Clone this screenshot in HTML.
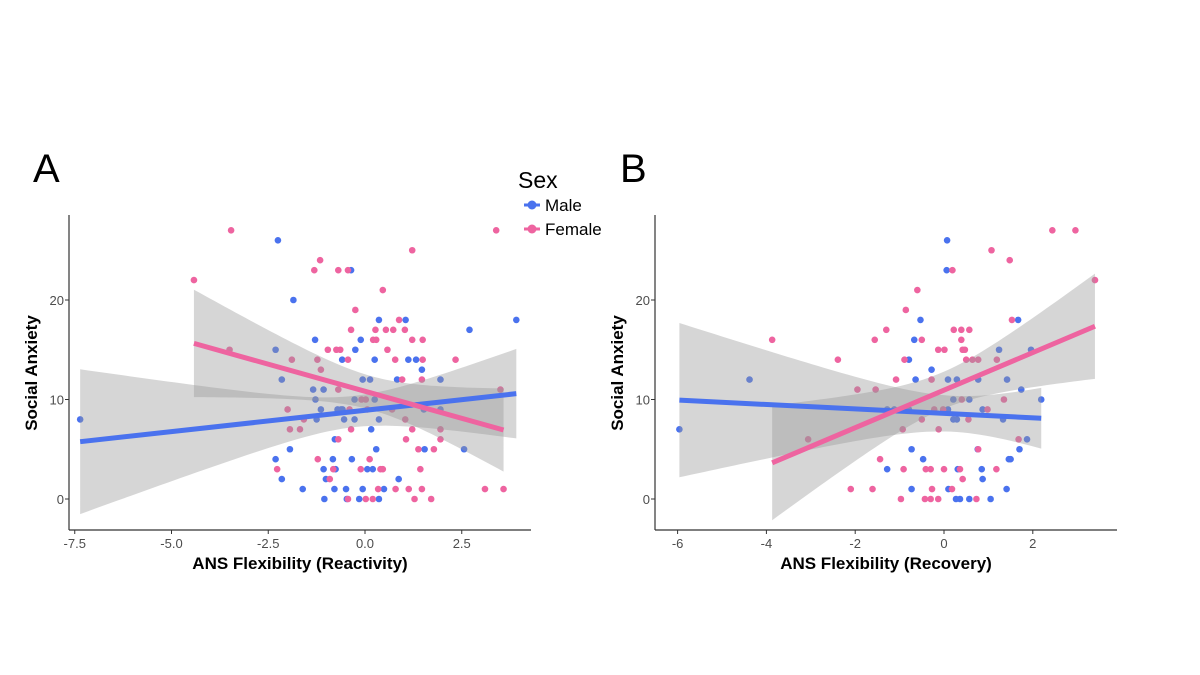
<!DOCTYPE html>
<html><head><meta charset="utf-8"><style>
body{margin:0;background:#fff;}
svg{display:block;font-family:"Liberation Sans",Arial,sans-serif;}
</style></head><body>
<svg id="chart" width="1200" height="675" viewBox="0 0 1200 675">
<text x="33" y="182" font-size="40" fill="#000">A</text>
<text x="620" y="182" font-size="40" fill="#000">B</text>
<g>
<text x="518" y="188" font-size="23" fill="#000">Sex</text>
<g>
<line x1="524" y1="205" x2="540" y2="205" stroke="#4a72ee" stroke-width="3"/><circle cx="532" cy="205" r="4.5" fill="#4a72ee"/>
<text x="545" y="211" font-size="17" fill="#000">Male</text></g>
<g>
<line x1="524" y1="229" x2="540" y2="229" stroke="#ee64a0" stroke-width="3"/><circle cx="532" cy="229" r="4.5" fill="#ee64a0"/>
<text x="545" y="235" font-size="17" fill="#000">Female</text></g>
</g>
<g id="pA"></g>
<g id="pB"></g>
</svg>
<script>
// Panel A data (ANS Flexibility Reactivity vs Social Anxiety)
const aMaleX=[-7.36,-2.25,-1.85,-0.36,0.36,1.05,3.91,2.7,-1.29,-0.11,-2.31,-0.25,-0.59,0.25,1.12,1.32,1.47,-2.15,-0.06,0.13,0.83,1.95,-1.34,-1.07,-1.28,-0.27,0.25,-1.14,-0.71,-0.62,-0.58,1.52,1.95,-1.25,-0.54,-0.27,0.36,0.16,-0.78,-1.94,0.29,1.54,2.56,-2.31,-0.83,-0.34,-1.07,-0.76,0.06,0.2,-2.15,-1.01,0.87,-1.61,-0.79,-0.49,-0.06,0.49,-1.05,-0.47,-0.15,0.36];
const aMaleY=[8,26,20,23,18,18,18,17,16,16,15,15,14,14,14,14,13,12,12,12,12,12,11,11,10,10,10,9,9,9,9,9,9,8,8,8,8,7,6,5,5,5,5,4,4,4,3,3,3,3,2,2,2,1,1,1,1,1,0,0,0,0];
const aFemX=[-3.46,3.39,-4.42,1.22,-1.16,-1.31,-0.69,-0.44,0.46,-0.25,0.88,-0.36,0.27,0.54,0.73,1.03,0.21,0.29,1.22,1.49,-3.5,-0.96,-0.74,-0.64,0.58,-1.89,-1.23,-0.44,0.78,1.49,2.34,-1.14,0.96,1.47,-0.69,3.5,-0.09,0.02,-2.0,-0.4,0.06,0.7,-1.58,1.04,-1.94,-1.68,-0.36,1.22,1.95,-0.69,1.06,1.95,1.38,1.78,-1.22,0.12,-2.27,-0.82,-0.11,0.4,0.46,1.43,-0.91,0.34,0.79,1.13,1.47,3.1,3.58,-0.44,0.02,0.2,1.28,1.71];
const aFemY=[27,27,22,25,24,23,23,23,21,19,18,17,17,17,17,17,16,16,16,16,15,15,15,15,15,14,14,14,14,14,14,13,12,12,11,11,10,10,9,9,9,9,8,8,7,7,7,7,7,6,6,6,5,5,4,4,3,3,3,3,3,3,2,1,1,1,1,1,1,0,0,0,0,0];
// Panel B data (ANS Flexibility Recovery vs Social Anxiety)
const bMaleX=[-5.96,-4.38,0.07,0.06,-0.53,1.67,-0.67,-0.79,1.24,1.96,-0.28,-0.64,0.09,0.29,0.77,1.42,1.74,0.21,0.57,2.19,-1.28,-1.12,-0.79,0.09,0.87,0.21,0.29,1.33,1.87,-0.73,0.76,1.7,-0.47,1.46,1.5,-1.28,0.31,0.85,0.87,-0.73,0.1,1.41,0.27,0.36,0.57,1.05];
const bMaleY=[7,12,26,23,18,18,16,14,15,15,13,12,12,12,12,12,11,10,10,10,9,9,9,9,9,8,8,8,6,5,5,5,4,4,4,3,3,3,2,1,1,1,0,0,0,0];
const bFemX=[2.96,2.44,1.07,1.48,0.19,3.4,-0.6,-0.86,1.53,-1.3,0.22,0.39,0.57,-3.87,-1.56,-0.5,0.39,-0.13,0.01,0.42,0.47,-2.39,-0.89,0.5,0.64,0.77,1.19,-1.08,-0.28,-1.95,-1.54,0.4,1.35,-0.22,-0.02,0.98,-0.5,0.55,-0.93,-0.12,-3.06,1.68,0.77,-1.44,-0.91,-0.41,-0.3,0,0.36,1.18,0.42,-2.1,-1.61,-0.27,0.18,-0.97,-0.43,-0.3,-0.13,0.73];
const bFemY=[27,27,25,24,23,22,21,19,18,17,17,17,17,16,16,16,16,15,15,15,15,14,14,14,14,14,14,12,12,11,11,10,10,9,9,9,8,8,7,7,6,6,5,4,3,3,3,3,3,3,2,1,1,1,1,0,0,0,0,0];
const aTicksX=[-7.5,-5.0,-2.5,0.0,2.5], aTickLabels=["-7.5","-5.0","-2.5","0.0","2.5"];
const bTicksX=[-6,-4,-2,0,2], bTickLabels=["-6","-4","-2","0","2"];
const yTicks=[0,10,20], yTickLabels=["0","10","20"];

const NS="http://www.w3.org/2000/svg";
const BLUE="#4a72ee", PINK="#ee64a0";
function mk(parent,tag,attrs){const e=document.createElementNS(NS,tag);for(const k in attrs)e.setAttribute(k,attrs[k]);parent.appendChild(e);return e;}

function fit(xs,ys){
  const n=xs.length;let mx=0,my=0;for(let i=0;i<n;i++){mx+=xs[i];my+=ys[i];}mx/=n;my/=n;
  let sxx=0,sxy=0;for(let i=0;i<n;i++){sxx+=(xs[i]-mx)**2;sxy+=(xs[i]-mx)*(ys[i]-my);}
  const b=sxy/sxx,a=my-b*mx;let sse=0;for(let i=0;i<n;i++)sse+=(ys[i]-a-b*xs[i])**2;
  const s=Math.sqrt(sse/(n-2));return {a,b,s,n,mx,sxx,t:1.99};
}

function panel(g,cfg){
  const X=v=>cfg.x0+v*cfg.kx, Y=v=>499-v*9.95;
  // axes
  mk(g,'line',{x1:cfg.left,y1:215,x2:cfg.left,y2:530,stroke:'#333','stroke-width':1.2});
  mk(g,'line',{x1:cfg.left,y1:530,x2:cfg.right,y2:530,stroke:'#333','stroke-width':1.2});
  cfg.ticks.forEach((t,i)=>{
    mk(g,'line',{x1:X(t),y1:530,x2:X(t),y2:534,stroke:'#333','stroke-width':1});
    const tx=mk(g,'text',{x:X(t),y:548,'font-size':13,'text-anchor':'middle',fill:'#4d4d4d'});tx.textContent=cfg.labels[i];
    
    
  });
  yTicks.forEach((t,i)=>{
    mk(g,'line',{x1:cfg.left-4,y1:Y(t),x2:cfg.left,y2:Y(t),stroke:'#333','stroke-width':1});
    const tx=mk(g,'text',{x:cfg.left-5,y:Y(t)+5,'font-size':13,'text-anchor':'end',fill:'#4d4d4d'});tx.textContent=yTickLabels[i];
    
    
  });
  const yt=mk(g,'text',{x:0,y:0,'font-size':17,'font-weight':'bold','text-anchor':'middle',fill:'#000',transform:`translate(${cfg.left-32},373) rotate(-90)`});
  yt.textContent='Social Anxiety';
  
  
  const xt=mk(g,'text',{x:(cfg.left+cfg.right)/2,y:569,'font-size':17,'font-weight':'bold','text-anchor':'middle',fill:'#000'});
  xt.textContent=cfg.title;
  
  
  // points
  cfg.series.forEach(s=>{
    s.xs.forEach((x,i)=>{
      const c=mk(g,'circle',{cx:X(x),cy:Y(s.ys[i]),r:3.3,fill:s.color});
      
      
    });
  });
  // fits
  cfg.series.forEach(s=>{
    const f=fit(s.xs,s.ys);const lo=Math.min(...s.xs),hi=Math.max(...s.xs);
    const up=[],dn=[];const N=60;
    for(let k=0;k<=N;k++){const x=lo+(hi-lo)*k/N;const yh=f.a+f.b*x;
      const h=f.t*f.s*Math.sqrt(1/f.n+(x-f.mx)**2/f.sxx);
      up.push(X(x)+','+Y(yh+h));dn.unshift(X(x)+','+Y(yh-h));}
    const band=mk(g,'polygon',{points:up.concat(dn).join(' '),fill:'#999','fill-opacity':0.4});
    
    
  });
  cfg.series.forEach(s=>{
    const f=fit(s.xs,s.ys);const lo=Math.min(...s.xs),hi=Math.max(...s.xs);
    const l=mk(g,'line',{x1:X(lo),y1:Y(f.a+f.b*lo),x2:X(hi),y2:Y(f.a+f.b*hi),stroke:s.color,'stroke-width':5});
    
    
  });
}
panel(document.getElementById('pA'),{x0:365,kx:38.7,left:69,right:531,ticks:aTicksX,labels:aTickLabels,title:'ANS Flexibility (Reactivity)',
  series:[{name:'male',xs:aMaleX,ys:aMaleY,color:BLUE},{name:'female',xs:aFemX,ys:aFemY,color:PINK}]});
panel(document.getElementById('pB'),{x0:944,kx:44.4,left:655,right:1117,ticks:bTicksX,labels:bTickLabels,title:'ANS Flexibility (Recovery)',
  series:[{name:'male',xs:bMaleX,ys:bMaleY,color:BLUE},{name:'female',xs:bFemX,ys:bFemY,color:PINK}]});
</script>
</body></html>
